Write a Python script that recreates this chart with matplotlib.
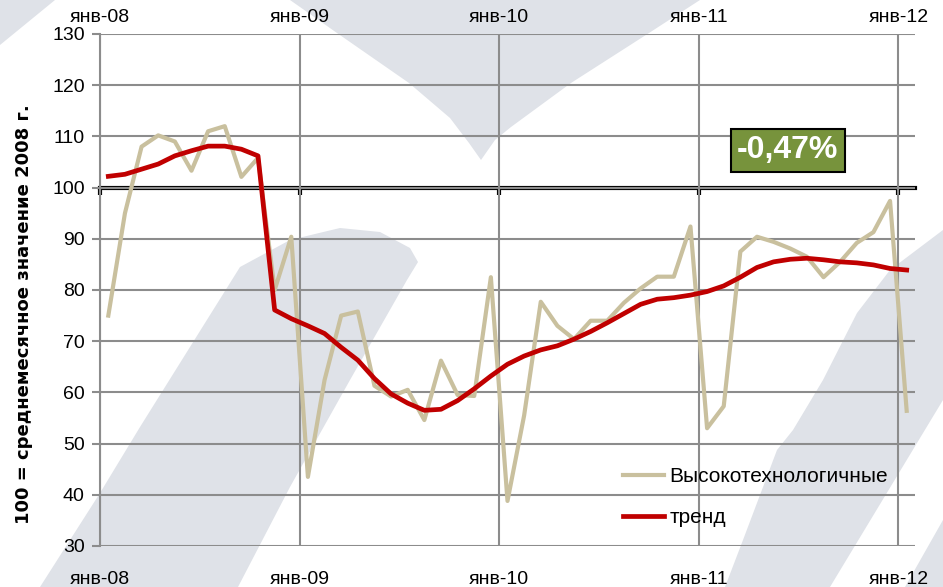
import numpy as np
import matplotlib.pyplot as plt
from matplotlib.patches import Polygon

plt.rcParams['font.family'] = ['Liberation Sans', 'DejaVu Sans']

# monthly index, Jan 2008 .. Jan 2012
hitech = [75, 95, 108, 110.2, 109, 103.3, 111, 112, 102.1, 105.8,
          80, 90.4, 43.5, 62.4, 75, 75.8, 61.3, 59.2, 60.5, 54.6,
          66.2, 59.5, 59.3, 82.5, 38.8, 55.5, 77.7, 73, 70.4, 74,
          74, 77.5, 80.3, 82.6, 82.6, 92.4, 53, 57.3, 87.5, 90.4,
          89.4, 88.1, 86.5, 82.5, 85.5, 89.2, 91.3, 97.4, 56.4]
trend = [102.2, 102.6, 103.6, 104.6, 106.2, 107.2, 108.1, 108.1, 107.5, 106.2,
         76.1, 74.4, 73, 71.5, 68.8, 66.3, 62.7, 59.7, 57.9, 56.5,
         56.7, 58.4, 60.7, 63.2, 65.5, 67.1, 68.3, 69.1, 70.4, 71.9,
         73.6, 75.4, 77.2, 78.2, 78.5, 79, 79.7, 80.8, 82.5, 84.4,
         85.5, 86, 86.2, 85.9, 85.5, 85.3, 84.9, 84.2, 83.9]
year_labels = ['янв-08', 'янв-09', 'янв-10', 'янв-11', 'янв-12']
y_ticks = list(range(30, 131, 10))
change_label = '-0,47%'

W, H = 943, 587
fig = plt.figure(figsize=(W / 100, H / 100), dpi=100)
fig.patch.set_facecolor('white')

# faint logo watermark in the background
wm = '#dfe2e8'
shapes = [
    [(0, 0), (55, 0), (0, 45)],
    [(290, 0), (337, 33), (409, 83), (450, 118), (469, 143), (481, 160),
     (495, 140), (511, 127), (571, 83), (649, 33), (700, 0)],
    [(40, 587), (100, 493), (140, 427), (190, 347), (240, 267), (290, 240),
     (340, 228), (380, 232), (410, 248), (418, 262), (407, 280),
     (350, 380), (290, 487), (238, 587)],
    [(725, 587), (743, 540), (777, 450), (793, 430), (823, 380), (857, 313),
     (890, 270), (943, 230), (943, 400), (830, 587)],
    [(905, 587), (943, 520), (943, 587)],
]
for pts in shapes:
    xy = [(px / W, 1 - py / H) for px, py in pts]
    fig.add_artist(Polygon(xy, closed=True, facecolor=wm, edgecolor='none',
                           transform=fig.transFigure, zorder=-1))

left, right, top, bottom = 100, 915, 34, 546
ax = fig.add_axes([left / W, 1 - bottom / H, (right - left) / W, (bottom - top) / H])
ax.set_facecolor('none')

x = np.arange(len(hitech)) + 0.5
ax.plot(x, hitech, color='#c9c09e', lw=3, label='Высокотехнологичные', zorder=3)
ax.plot(x, trend, color='#c00000', lw=3.4, label='тренд', zorder=4)

ax.set_xlim(0, 49)
ax.set_ylim(30, 130)
year_pos = [0, 12, 24, 36, 48]
ax.set_xticks(year_pos)
ax.set_xticklabels(year_labels)
ax.set_yticks(y_ticks)
ax.tick_params(axis='x', length=0, labelsize=14, pad=18)
ax.tick_params(axis='y', length=6, color='#8c8c8c', width=1.5, labelsize=14, pad=5)
ax.grid(True, color='#8c8c8c', lw=1.5)
ax.set_axisbelow(True)
for s in ['top', 'right', 'bottom']:
    ax.spines[s].set_visible(False)
ax.spines['left'].set_color('#8c8c8c')
ax.spines['left'].set_linewidth(1.5)

top_ax = ax.secondary_xaxis('top')
top_ax.set_xticks(year_pos)
top_ax.set_xticklabels(year_labels)
top_ax.tick_params(length=0, labelsize=14, pad=6)
top_ax.spines['top'].set_visible(False)

# x axis crossing at 100
mid_ax = ax.secondary_xaxis(0.7)
mid_ax.set_alignment('bottom')
mid_ax.set_xticks(year_pos)
mid_ax.set_xticklabels([])
mid_ax.tick_params(direction='out', length=5, width=3, color='black')
mid_ax.spines['bottom'].set_color('black')
mid_ax.spines['bottom'].set_linewidth(3)
mid_ax.spines['top'].set_visible(False)

ax.set_ylabel('100 = среднемесячное значение 2008 г.', fontsize=13,
              fontweight='bold', family='DejaVu Sans')
ax.yaxis.set_label_coords(-0.082, 0.452)

ax.text(0.844, 0.773, change_label, transform=ax.transAxes, ha='center', va='center',
        fontsize=23, fontweight='bold', color='white', zorder=6,
        bbox=dict(boxstyle='square,pad=0.2', facecolor='#77933c',
                  edgecolor='black', lw=1.5))

leg = ax.legend(loc='lower right', bbox_to_anchor=(0.99, 0.0), frameon=False,
                fontsize=15, handlelength=2.0, handletextpad=0.25, labelspacing=1.05)

fig.savefig('out.png', dpi=100, facecolor='white')
